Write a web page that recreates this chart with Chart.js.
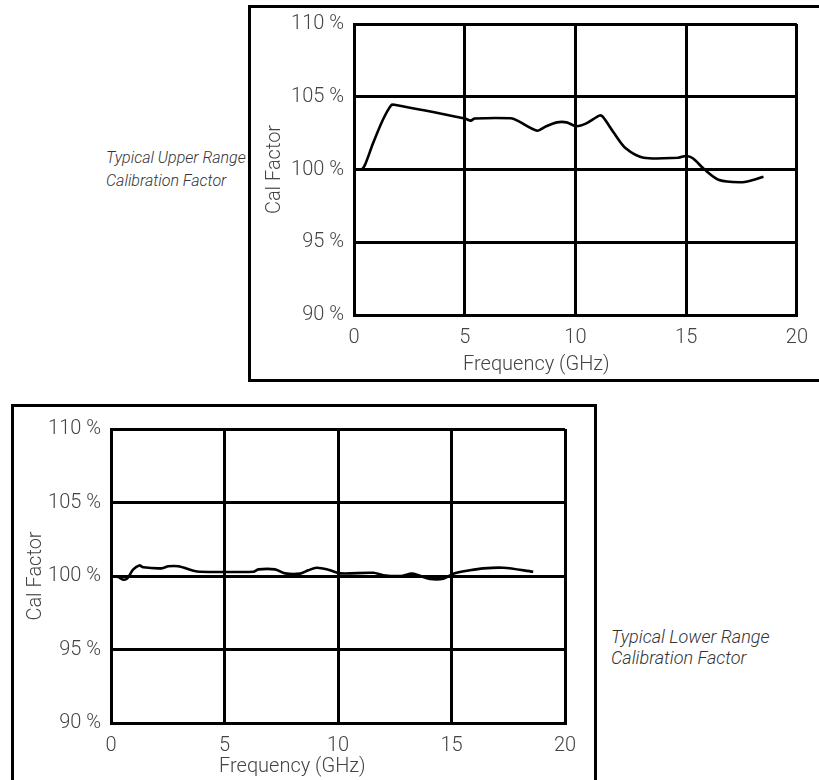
<!DOCTYPE html>
<html>
<head>
<meta charset="utf-8">
<script src="https://cdn.jsdelivr.net/npm/chart.js@4.4.1/dist/chart.umd.min.js"></script>
<style>
  html, body { margin: 0; padding: 0; background: #fff; width: 819px; height: 780px; overflow: hidden; position: relative; font-family: Roboto, "Open Sans", sans-serif; }
  .frame { position: absolute; border: 3px solid #000; box-sizing: border-box; }
  .chartbox { position: absolute; }
  .note { position: absolute; font-style: italic; font-weight: 300; color: #333; font-family: Roboto, sans-serif; white-space: nowrap; }
  .xtitle { position: absolute; font-weight: 300; font-size: 20px; line-height: 24px; color: #444; font-family: Roboto, sans-serif; white-space: nowrap; }
</style>
</head>
<body>
<div class="frame" style="left:248px; top:5px; width:600px; height:377px;"></div>
<div class="frame" style="left:11px; top:404px; width:586px; height:400px;"></div>

<div class="chartbox" style="left:251px; top:0px; width:568px; height:380px;"><canvas id="upper"></canvas></div>
<div class="chartbox" style="left:14px; top:407px; width:582px; height:373px;"><canvas id="lower"></canvas></div>

<div class="xtitle" id="upperXTitle" style="left:463px; top:351px;"></div>
<div class="xtitle" id="lowerXTitle" style="left:219px; top:753px;"></div>

<div class="note" style="left:106px; top:146px; font-size:16px; line-height:23px;">Typical Upper Range<br>Calibration Factor</div>
<div class="note" style="left:611px; top:626px; font-size:18px; line-height:21px;">Typical Lower Range<br>Calibration Factor</div>

<script>
// ---- data ----
const xTickValues = [0, 5, 10, 15, 20];
const yTickValues = [90, 95, 100, 105, 110];
const yTickSuffix = ' %';
const xAxisTitle = 'Frequency (GHz)';
const yAxisTitle = 'Cal Factor';

const upperFreq = [0, 0.34, 0.49, 0.86, 1.3, 1.67, 1.82, 5.0, 5.27, 5.45, 7.08, 7.38, 8.27, 8.64, 9.16, 9.6, 10.04, 10.49, 11.08, 11.23, 11.75, 12.27, 13.08, 14.64, 15.0, 15.3, 15.82, 16.49, 17.45, 17.9, 18.49];
const upperCal  = [100.0, 100.0, 100.3, 101.8, 103.4, 104.4, 104.45, 103.5, 103.36, 103.5, 103.52, 103.36, 102.67, 102.94, 103.24, 103.24, 102.97, 103.17, 103.7, 103.63, 102.49, 101.46, 100.81, 100.81, 100.93, 100.77, 100.01, 99.28, 99.12, 99.23, 99.5];

const lowerFreq = [0, 0.32, 0.54, 0.72, 0.98, 1.25, 1.42, 2.23, 2.53, 2.96, 3.63, 3.92, 6.27, 6.49, 7.22, 7.67, 8.33, 8.69, 9.06, 9.57, 10.09, 11.56, 12.0, 12.8, 13.25, 13.54, 14.05, 14.64, 15.08, 15.81, 16.4, 17.28, 18.6];
const lowerCal  = [100.0, 99.93, 99.75, 99.84, 100.45, 100.72, 100.59, 100.52, 100.66, 100.66, 100.36, 100.29, 100.29, 100.45, 100.45, 100.18, 100.16, 100.39, 100.56, 100.43, 100.18, 100.22, 100.05, 100.0, 100.16, 100.05, 99.8, 99.82, 100.16, 100.39, 100.52, 100.56, 100.29];

document.getElementById('upperXTitle').textContent = xAxisTitle;
document.getElementById('lowerXTitle').textContent = xAxisTitle;

function makeChart(id, freq, cal, opts) {
  const pts = freq.map((f, i) => ({ x: f, y: cal[i] }));
  const tickFont = { family: 'Roboto', size: 20, weight: '300' };
  const titleFont = { family: 'Roboto', size: 20, weight: '300' };
  return new Chart(document.getElementById(id), {
    type: 'line',
    data: { datasets: [{ data: pts, borderColor: '#000', borderWidth: 2.6, pointRadius: 0, tension: 0.3, fill: false }] },
    options: {
      responsive: true,
      maintainAspectRatio: false,
      animation: false,
      events: [],
      layout: { padding: { left: 0, top: opts.padTop, right: opts.padRight, bottom: 0 } },
      plugins: { legend: { display: false }, tooltip: { enabled: false } },
      scales: {
        x: {
          type: 'linear', min: 0, max: 20,
          afterBuildTicks: s => { s.ticks = xTickValues.map(v => ({ value: v })); },
          afterFit: s => { s.height = opts.xHeight; },
          grid: { color: '#000', lineWidth: 3, drawTicks: false },
          border: { display: true, color: '#000', width: 3 },
          ticks: { color: '#444', font: tickFont, padding: opts.xTickPad, maxRotation: 0, autoSkip: false },
          title: { display: false }
        },
        y: {
          type: 'linear', min: 90, max: 110,
          afterBuildTicks: s => { s.ticks = yTickValues.map(v => ({ value: v })); },
          afterFit: s => { s.width = opts.yWidth; },
          grid: { color: '#000', lineWidth: 3, drawTicks: false },
          border: { display: true, color: '#000', width: 3 },
          ticks: { color: '#444', font: tickFont, padding: 10, callback: v => v + yTickSuffix },
          title: { display: true, text: yAxisTitle, color: '#444', font: titleFont, padding: { top: opts.yTitlePad, bottom: 0 } }
        }
      }
    }
  });
}

makeChart('upper', upperFreq, upperCal, { padTop: 24, padRight: 15, xHeight: 65, yWidth: 103, xTickPad: 11, yTitlePad: 12 });
makeChart('lower', lowerFreq, lowerCal, { padTop: 20, padRight: 31, xHeight: 57, yWidth: 97, xTickPad: 11, yTitlePad: 10 });
</script>
</body>
</html>
